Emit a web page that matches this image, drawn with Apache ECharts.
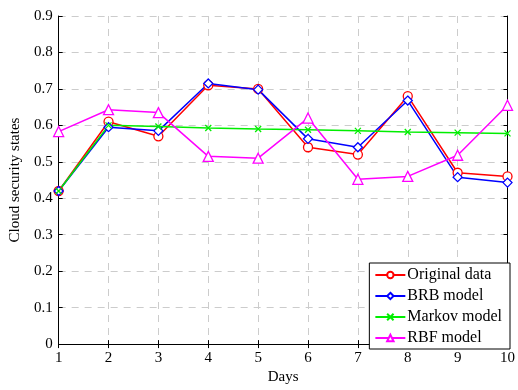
<!DOCTYPE html>
<html>
<head>
<meta charset="utf-8">
<script src="https://cdn.jsdelivr.net/npm/echarts@6/dist/echarts.min.js"></script>
<style>
  html, body { margin: 0; padding: 0; background: #fff; }
  #chart { width: 518px; height: 390px; }
</style>
</head>
<body>
<div id="chart"></div>
<script>
const days = [1, 2, 3, 4, 5, 6, 7, 8, 9, 10];
const originalData = [0.42, 0.61, 0.57, 0.71, 0.70, 0.54, 0.52, 0.68, 0.47, 0.46];
const brbModel = [0.42, 0.595, 0.585, 0.715, 0.698, 0.563, 0.54, 0.668, 0.458, 0.443];
const markovModel = [0.42, 0.60, 0.597, 0.593, 0.59, 0.588, 0.585, 0.582, 0.58, 0.578];
const rbfModel = [0.583, 0.643, 0.635, 0.515, 0.51, 0.62, 0.452, 0.46, 0.518, 0.655];

const font = 'Liberation Serif';
const pairs = arr => days.map((d, i) => [d, arr[i]]);

const chart = echarts.init(document.getElementById('chart'));

const mkSeries = (name, data, color, symbol, size) => ({
  name: name,
  type: 'line',
  data: pairs(data),
  symbol: symbol,
  symbolSize: size,
  itemStyle: { color: '#fff', borderColor: color, borderWidth: 1.3 },
  lineStyle: { color: color, width: 1.5 },
  emphasis: { disabled: true }
});

chart.setOption({
  animation: false,
  textStyle: { fontFamily: font },
  grid: { left: 51, right: 8, top: 16, bottom: 36 },
  xAxis: [{
    type: 'value', min: 1, max: 10, interval: 1,
    name: 'Days', nameLocation: 'middle', nameGap: 22,
    nameTextStyle: { fontSize: 15, color: '#000', fontFamily: font },
    axisLine: { lineStyle: { color: '#000', width: 1 } },
    axisTick: { inside: true, length: 4, lineStyle: { color: '#000' } },
    axisLabel: { fontSize: 15, color: '#000', fontFamily: font, margin: 6 },
    splitLine: { show: true, lineStyle: { color: '#ccc', type: [7, 6] } }
  }, {
    type: 'value', min: 1, max: 10, interval: 1, position: 'top',
    axisLine: { lineStyle: { color: '#000' } },
    axisTick: { inside: true, length: 4, lineStyle: { color: '#000' } },
    axisLabel: { show: false }, splitLine: { show: false }
  }],
  yAxis: [{
    type: 'value', min: 0, max: 0.9, interval: 0.1,
    name: 'Cloud security states', nameLocation: 'middle', nameGap: 34,
    nameTextStyle: { fontSize: 15, color: '#000', fontFamily: font },
    axisLine: { show: true, lineStyle: { color: '#000', width: 1 } },
    axisTick: { show: true, inside: true, length: 4, lineStyle: { color: '#000' } },
    axisLabel: { fontSize: 15, color: '#000', fontFamily: font, margin: 6,
      formatter: v => (Math.round(v * 10) / 10).toString() },
    splitLine: { show: true, lineStyle: { color: '#ccc', type: [7, 6] } }
  }, {
    type: 'value', min: 0, max: 0.9, interval: 0.1, position: 'right',
    axisLine: { show: true, lineStyle: { color: '#000' } },
    axisTick: { show: true, inside: true, length: 4, lineStyle: { color: '#000' } },
    axisLabel: { show: false }, splitLine: { show: false }
  }],
  legend: {
    orient: 'vertical',
    right: 8, bottom: 41,
    backgroundColor: '#fff',
    borderColor: '#000', borderWidth: 1, borderRadius: 0,
    padding: [4, 8, 3, 5],
    itemGap: 5,
    itemWidth: 30, itemHeight: 8,
    textStyle: { fontSize: 16, color: '#000', fontFamily: font, padding: [0, 0, 0, -3] },
    data: ['Original data', 'BRB model', 'Markov model', 'RBF model']
  },
  series: [
    mkSeries('Original data', originalData, '#ff0000', 'circle', 9),
    mkSeries('BRB model', brbModel, '#0000ff', 'diamond', 9),
    mkSeries('Markov model', markovModel, '#00ee00', 'path://M0,0L10,10M10,0L0,10', 6),
    mkSeries('RBF model', rbfModel, '#ff00ff', 'triangle', 10)
  ]
});
</script>
</body>
</html>
